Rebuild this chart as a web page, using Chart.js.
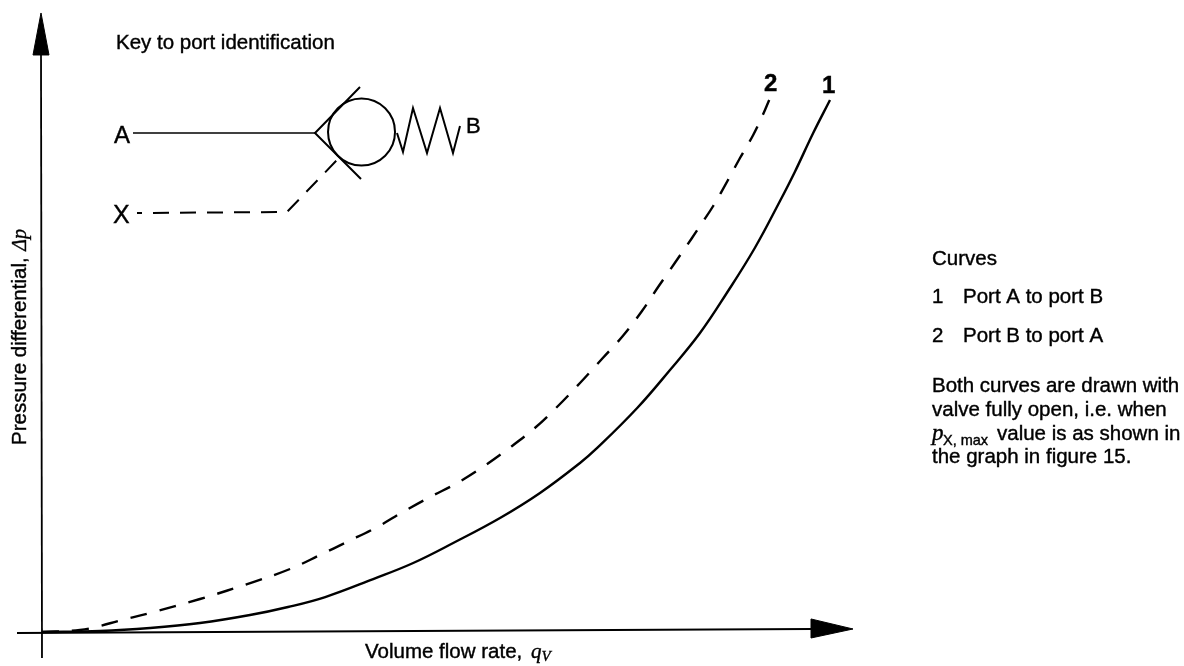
<!DOCTYPE html>
<html>
<head>
<meta charset="utf-8">
<style>html,body{margin:0;padding:0;background:#fff}canvas{display:block}</style>
<script src="https://cdn.jsdelivr.net/npm/chart.js@4"></script>
</head>
<body>
<canvas id="c" width="1184" height="666"></canvas>
<script>
// Curve values (flow rate, pressure differential), relative units
const curve1Flow = [0,7.25,13.5,19.75,26,30.75,35.4,41.4,46.4,51.4,57.25,62.25,67.25,69.4,74.4,78.5,82.25,85.6,89.1,92.25,94.1,96.4,98.5];
const curve1Dp   = [0,0.17,0.67,1.5,2.83,4.17,5.83,8.83,11.5,14.83,19,23.17,28.17,30.67,37.33,43.67,49.83,56.5,64,71.83,76.67,83.17,88.67];
const curve2Flow = [0,4.75,7.25,9.5,13.5,19.75,26.4,31,34.75,38.1,41.9,45.1,48.5,51.9,55.1,58.25,61.6,64.5,67.25,70.1,72.6,75,77.1,79.1,81.25,82.25,83.9,85.75,87.25,88.9,90.1,90.9];
const curve2Dp   = [0,0.33,1,1.83,3.17,5.5,8.33,10.5,12.83,15,17.5,20,22.5,24.83,27.5,30.5,34,37.67,41.5,45.67,49.33,53.5,57.67,61.5,65.67,67.67,71,75.33,79,82.83,86.17,88.67];

// Axis lines and arrow heads
const xAxisLine  = [[-3.125,-0.17],[96.125,0.5]];
const yAxisLine  = [[0,-4.33],[-0.125,96.17]];
const xArrowHead = [[96.125,2.17],[101.375,0.5],[96.125,-1],[96.125,2.17]];
const yArrowHead = [[-1.125,96.17],[-0.125,103.17],[0.875,96.17],[-1.125,96.17]];

// Port identification symbol
const portALine  = [[11.375,83.17],[34.125,83.17]];
const seatLines  = [[39.75,90.83],[34.125,83.17],[39.875,75.5]];
const ballCentre = [[39.94,83.33]];
const springLine = [[44.375,83.17],[45.125,80],[46.375,87.33],[48.125,79.83],[49.75,87.33],[51.375,79.83],[52.25,84.33]];
const portXLine  = [[11.875,69.83],[30.625,70],[36.875,78.67]];

// Text
const yTitle = "Pressure differential, ";
const yTitleSymbol = "Δp";
const xTitle = "Volume flow rate, ";
const xTitleSymbol = "q";
const xTitleSub = "V";
const keyTitle = "Key to port identification";
const portLabels = ["A","X","B"];
const curveLabels = ["1","2"];
const notesHead = "Curves";
const noteCurve1 = ["1","Port A to port B"];
const noteCurve2 = ["2","Port B to port A"];
const noteLine1 = "Both curves are drawn with";
const noteLine2 = "valve fully open, i.e. when";
const noteLine3 = ["p","X, max","value is as shown in"];
const noteLine4 = "the graph in figure 15.";

const pts = a => a.map(p => ({x:p[0], y:p[1]}));
const zip = (xs,ys) => xs.map((x,i)=>({x, y:ys[i]}));
const INK = "#000";
const SANS = '"Liberation Sans", Arial, sans-serif';
const SERIF = '"Liberation Serif", serif';

function plain(data, w, extra){
  return Object.assign({data, showLine:true, borderColor:INK, borderWidth:w, pointRadius:0, tension:0, fill:false, clip:false}, extra||{});
}

const textPlugin = {
  id:"texts",
  afterDatasetsDraw(chart){
    const c = chart.ctx;
    c.save();
    c.fillStyle = INK;
    c.strokeStyle = INK;
    c.lineWidth = 0.4;
    c.textBaseline = "alphabetic";
    const t = (s,x,y,size,font,style) => {
      c.font = (style?style+" ":"") + size + "px " + (font||SANS);
      c.fillText(s,x,y);
      c.strokeText(s,x,y);
      return x + c.measureText(s).width;
    };
    const body = 20.5;
    t(keyTitle,116,49,body);
    t(portLabels[0],114,143,24);
    t(portLabels[1],113,223,25);
    t(portLabels[2],466,133,22);
    t(curveLabels[0],822,93,24,SANS,"bold");
    t(curveLabels[1],764,91,24,SANS,"bold");
    // x axis title
    let x = t(xTitle,365,658,body);
    x = t(xTitleSymbol,x+3,658,21,SERIF,"italic");
    t(xTitleSub,x,661,15,SERIF,"italic");
    // y axis title
    c.save();
    c.translate(26,445);
    c.rotate(-Math.PI/2);
    x = t(yTitle,0,0,body);
    t(yTitleSymbol,x+1,0,20,SERIF,"italic");
    c.restore();
    // notes
    t(notesHead,932,265,body);
    t(noteCurve1[0],932,303,body);
    t(noteCurve1[1],963,303,body);
    t(noteCurve2[0],932,342,body);
    t(noteCurve2[1],963,342,body);
    t(noteLine1,932,392,body);
    t(noteLine2,932,416,body);
    t(noteLine3[0],932,440,23,SERIF,"italic");
    t(noteLine3[1],943,445,14.5);
    t(noteLine3[2],997,440,body);
    t(noteLine4,932,463,body);
    c.restore();
  }
};

new Chart(document.getElementById("c"), {
  type:"scatter",
  data:{datasets:[
    plain(zip(curve1Flow,curve1Dp),2.4,{label:"1 Port A to port B",tension:0.4}),
    plain(zip(curve2Flow,curve2Dp),2.4,{label:"2 Port B to port A",tension:0.4,borderDash:[17,13]}),
    plain(pts(xAxisLine),1.8),
    plain(pts(yAxisLine),1.8),
    plain(pts(xArrowHead),1,{fill:"shape",backgroundColor:INK}),
    plain(pts(yArrowHead),1,{fill:"shape",backgroundColor:INK}),
    plain(pts(portALine),1.6),
    plain(pts(seatLines),2),
    {data:pts(ballCentre),showLine:false,pointRadius:33.5,pointHoverRadius:33.5,pointBorderWidth:2,pointBorderColor:INK,pointBackgroundColor:"rgba(0,0,0,0)",clip:false},
    plain(pts(springLine),2),
    plain(pts(portXLine),2,{borderDash:[16,11],borderDashOffset:11})
  ]},
  options:{
    responsive:false,
    animation:false,
    devicePixelRatio:1,
    layout:{padding:0,autoPadding:false},
    plugins:{legend:{display:false},tooltip:{enabled:false}},
    scales:{
      x:{type:"linear",display:false,min:-5.25,max:142.75},
      y:{type:"linear",display:false,min:-5.6667,max:105.3333}
    }
  },
  plugins:[textPlugin]
});
</script>
</body>
</html>
